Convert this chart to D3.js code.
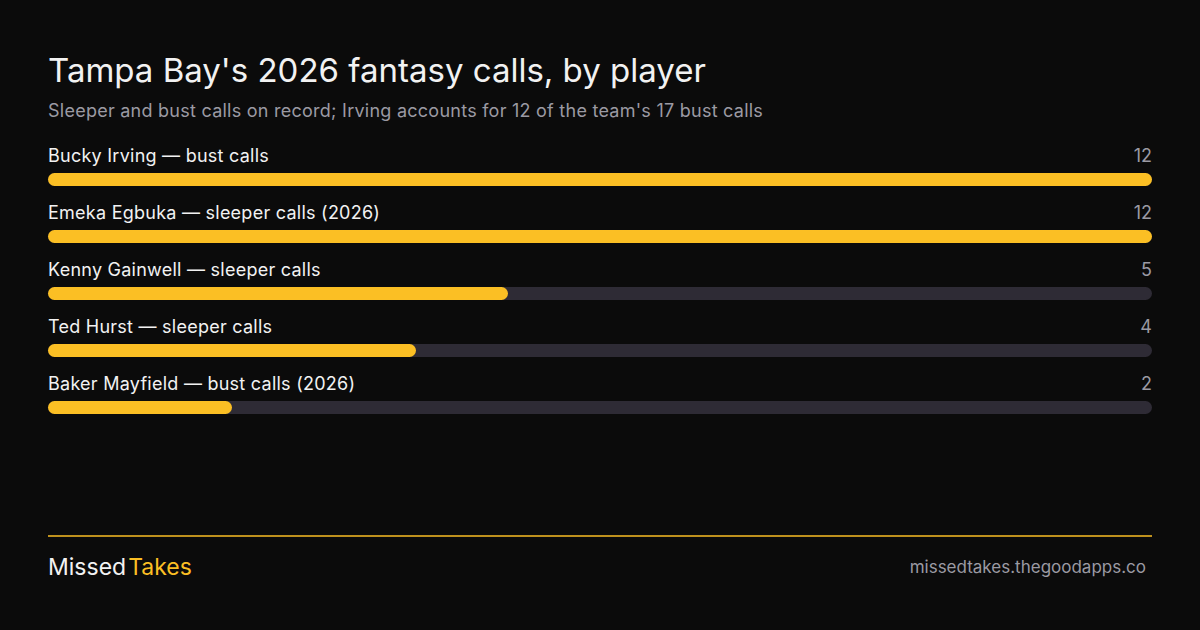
<!DOCTYPE html>
<html><head><meta charset="utf-8">
<script src="https://cdn.jsdelivr.net/npm/d3@7"></script>
<style>
html,body{margin:0;padding:0;background:#0b0b0b;}
svg{display:block;font-family:Inter,"Noto Sans",sans-serif;}
</style></head>
<body>
<svg id="c" width="1200" height="630"></svg>
<script>
const labels = ["Bucky Irving — bust calls","Emeka Egbuka — sleeper calls (2026)","Kenny Gainwell — sleeper calls","Ted Hurst — sleeper calls","Baker Mayfield — bust calls (2026)"];
const values = [12,12,5,4,2];
const title = "Tampa Bay's 2026 fantasy calls, by player";
const subtitle = "Sleeper and bust calls on record; Irving accounts for 12 of the team's 17 bust calls";

const svg = d3.select("#c");
svg.append("rect").attr("width",1200).attr("height",630).attr("fill","#0b0b0b");
svg.append("text").attr("x",48).attr("y",82).attr("fill","#f2f2f2").attr("font-size",33).text(title);
svg.append("text").attr("x",48).attr("y",117).attr("fill","#9b9aa3").attr("font-size",18).attr("letter-spacing",0.25).text(subtitle);

const x = d3.scaleLinear().domain([0,d3.max(values)]).range([48,1152]);
const y = d3.scaleBand().domain(d3.range(labels.length)).range([140,425]).paddingInner(0);
const bh = 13;
const g = svg.append("g");
labels.forEach((l,i)=>{
  const top = y(i);
  g.append("text").attr("x",48).attr("y",top+22).attr("fill","#f2f2f2").attr("font-size",18).attr("letter-spacing",0.25).text(l);
  g.append("text").attr("x",1152).attr("y",top+22).attr("text-anchor","end").attr("fill","#9b9aa3").attr("font-size",18).text(values[i]);
  g.append("rect").attr("x",x(0)).attr("y",top+33).attr("width",x(d3.max(values))-x(0)).attr("height",bh).attr("rx",bh/2).attr("fill","#2e2b35");
  g.append("rect").attr("x",x(0)).attr("y",top+33).attr("width",x(values[i])-x(0)).attr("height",bh).attr("rx",bh/2).attr("fill","#fbbf24");
});

svg.append("line").attr("x1",48).attr("x2",1152).attr("y1",536).attr("y2",536).attr("stroke","#fbbf24").attr("stroke-width",1.5);
const brand = svg.append("text").attr("x",48).attr("y",575).attr("font-size",23);
brand.append("tspan").attr("fill","#f2f2f2").text("Missed");
brand.append("tspan").attr("fill","#fbbf24").attr("dx",2).text("Takes");
svg.append("text").attr("x",1146).attr("y",573).attr("text-anchor","end").attr("fill","#9b9aa3").attr("font-size",17).text("missedtakes.thegoodapps.co");
</script>
</body></html>
